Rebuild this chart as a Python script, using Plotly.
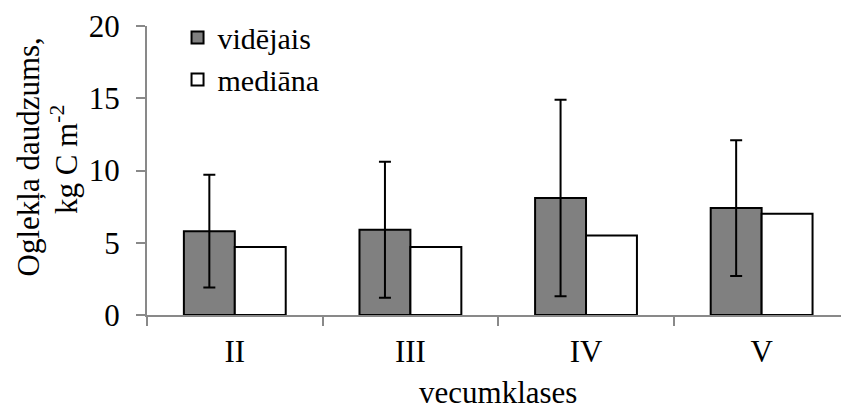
import plotly.graph_objects as go

categories = ["II", "III", "IV", "V"]
mean_values = [5.8, 5.9, 8.1, 7.4]
median_values = [4.7, 4.7, 5.5, 7.0]
err_upper = [9.7, 10.6, 14.9, 12.1]
err_lower = [1.9, 1.2, 1.3, 2.7]

series_names = ["vidējais", "mediāna"]
x_title = "vecumklases"
y_title_lines = ["Oglekļa daudzums,", "kg C m<sup>-2</sup>"]

plus = [u - m for u, m in zip(err_upper, mean_values)]
minus = [m - l for m, l in zip(mean_values, err_lower)]

FONT = "Liberation Serif"
FS = 31
AXC = "#898989"

fig = go.Figure()
fig.add_trace(go.Bar(
    x=categories, y=mean_values, name=series_names[0],
    marker=dict(color="#808080", line=dict(color="black", width=2)),
    error_y=dict(type="data", symmetric=False, array=plus, arrayminus=minus,
                 color="black", thickness=2, width=6),
))
fig.add_trace(go.Bar(
    x=categories, y=median_values, name=series_names[1],
    marker=dict(color="white", line=dict(color="black", width=2)),
))

fig.update_layout(
    width=841, height=410,
    margin=dict(l=147, r=0, t=26, b=95, autoexpand=False),
    paper_bgcolor="white", plot_bgcolor="white",
    font=dict(family=FONT, size=FS, color="black"),
    barmode="group", bargap=0.42, bargroupgap=0,
    showlegend=True,
    legend=dict(x=0.044, y=1.05, xanchor="left", yanchor="top",
                bgcolor="rgba(0,0,0,0)",
                font=dict(family=FONT, size=30, color="black"),
                tracegroupgap=0),
    xaxis=dict(
        type="category", range=[-0.5, 3.452], automargin=False,
        showline=True, linecolor=AXC, linewidth=2,
        ticks="outside", tickson="boundaries", ticklen=9, tickcolor=AXC, tickwidth=2,
        showgrid=False, zeroline=False, ticklabelstandoff=8,
        tickfont=dict(family=FONT, size=FS, color="black"),
    ),
    yaxis=dict(
        range=[0, 20], tickvals=[0, 5, 10, 15, 20], automargin=False,
        showline=True, linecolor=AXC, linewidth=2,
        ticks="outside", ticklen=9, tickcolor=AXC, tickwidth=2,
        showgrid=False, zeroline=False, ticklabelstandoff=10,
        tickfont=dict(family=FONT, size=FS, color="black"),
    ),
    annotations=[
        dict(text=y_title_lines[0], textangle=-90, xref="paper", yref="paper",
             x=(28 - 147) / 694, y=0.545, xanchor="center", yanchor="middle",
             showarrow=False, font=dict(family=FONT, size=FS, color="black")),
        dict(text=y_title_lines[1], textangle=-90, xref="paper", yref="paper",
             x=(64 - 147) / 694, y=0.536, xanchor="center", yanchor="middle",
             showarrow=False, font=dict(family=FONT, size=FS, color="black")),
        dict(text=x_title, xref="paper", yref="paper",
             x=(498 - 147) / 694, y=-(408 - 315) / 289, xanchor="center", yanchor="bottom",
             yshift=-4, showarrow=False, font=dict(family=FONT, size=FS, color="black")),
    ],
)

fig.write_html("out.html", config={"displayModeBar": False},
               post_script="document.body.style.margin='0';document.body.style.overflow='hidden';")
